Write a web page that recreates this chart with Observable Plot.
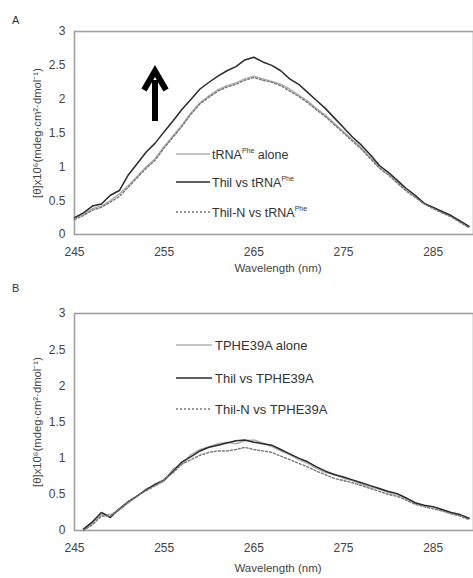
<!DOCTYPE html>
<html>
<head>
<meta charset="utf-8">
<script src="https://cdn.jsdelivr.net/npm/d3@7"></script>
<script src="https://cdn.jsdelivr.net/npm/@observablehq/plot@0.6"></script>
<style>
  html, body { margin: 0; padding: 0; background: #fff; }
  #wrap { position: relative; width: 473px; height: 578px; overflow: hidden; font-family: "Liberation Sans", Arial, sans-serif; }
  .panel { position: absolute; left: 0; }
  .overlay { position: absolute; left: 0; top: 0; pointer-events: none; }
</style>
</head>
<body>
<div id="wrap"></div>
<script>
const wavelengths = [245,246,247,248,249,250,251,252,253,254,255,256,257,258,259,260,261,262,263,264,265,266,267,268,269,270,271,272,273,274,275,276,277,278,279,280,281,282,283,284,285,286,287,288,289];

// Panel A
const aAlone = [0.24,0.30,0.38,0.42,0.50,0.60,0.72,0.86,1.00,1.12,1.30,1.46,1.62,1.80,1.95,2.05,2.14,2.20,2.24,2.30,2.34,2.30,2.26,2.22,2.15,2.06,1.97,1.86,1.76,1.64,1.52,1.40,1.28,1.14,1.00,0.90,0.78,0.66,0.56,0.46,0.40,0.33,0.27,0.19,0.11];
const aThil  = [0.25,0.32,0.42,0.45,0.58,0.65,0.88,1.05,1.22,1.35,1.52,1.68,1.85,2.00,2.15,2.25,2.34,2.42,2.48,2.58,2.62,2.55,2.50,2.42,2.30,2.22,2.10,1.98,1.86,1.72,1.58,1.44,1.32,1.18,1.02,0.92,0.80,0.68,0.58,0.46,0.40,0.34,0.28,0.20,0.12];
const aThilN = [0.22,0.28,0.36,0.40,0.48,0.56,0.70,0.84,0.98,1.10,1.28,1.44,1.60,1.78,1.93,2.03,2.12,2.18,2.22,2.28,2.32,2.28,2.25,2.20,2.12,2.04,1.95,1.84,1.74,1.62,1.50,1.38,1.26,1.12,0.98,0.88,0.76,0.64,0.55,0.45,0.38,0.32,0.26,0.18,0.10];

// Panel B
const bAlone = [null,0.00,0.10,0.22,0.22,0.28,0.38,0.47,0.58,0.62,0.68,0.85,0.92,1.05,1.12,1.16,1.20,1.22,1.20,1.24,1.25,1.21,1.16,1.10,1.05,0.98,0.93,0.86,0.80,0.78,0.72,0.69,0.64,0.60,0.57,0.53,0.49,0.44,0.39,0.34,0.32,0.28,0.24,0.21,0.16];
const bThil  = [null,0.02,0.12,0.25,0.18,0.30,0.40,0.48,0.56,0.64,0.70,0.82,0.95,1.02,1.10,1.15,1.18,1.21,1.24,1.25,1.22,1.20,1.18,1.12,1.06,1.00,0.95,0.88,0.82,0.77,0.74,0.70,0.66,0.62,0.58,0.54,0.51,0.45,0.38,0.35,0.33,0.29,0.25,0.22,0.17];
const bThilN = [null,0.00,0.08,0.20,0.20,0.30,0.40,0.48,0.55,0.62,0.70,0.80,0.92,0.98,1.04,1.08,1.10,1.10,1.12,1.15,1.12,1.10,1.08,1.03,0.98,0.93,0.88,0.82,0.77,0.72,0.69,0.66,0.62,0.58,0.54,0.50,0.47,0.42,0.36,0.33,0.30,0.27,0.23,0.20,0.15];

const xTicks = [245,255,265,275,285];
const yTicks = [0,0.5,1,1.5,2,2.5,3];
const xLabel = "Wavelength (nm)";
const yLabel = "[θ]x10⁶(mdeg·cm²·dmol⁻¹)";

const seriesStyle = [
  {stroke: "#b0b0b0", strokeWidth: 1.5, dash: null},
  {stroke: "#2a2a2a", strokeWidth: 1.5, dash: null},
  {stroke: "#777777", strokeWidth: 1.4, dash: "2,2"}
];

function rows(vals) { return wavelengths.map((w, i) => ({w, v: vals[i]})); }

function makePanel(series, height) {
  return Plot.plot({
    width: 473,
    height,
    marginLeft: 74,
    marginRight: 0,
    marginTop: 31,
    marginBottom: height - 31 - (height === 282 ? 203 : 217),
    style: {fontFamily: "Liberation Sans, Arial, sans-serif", fontSize: "12px", color: "#444", background: "transparent"},
    x: {domain: [245, 289.5], ticks: xTicks, tickSize: 0, tickPadding: 13, label: null, tickFormat: d => String(d)},
    y: {domain: [0, 3], ticks: yTicks, tickSize: 0, tickPadding: 9, label: null, tickFormat: d => String(d)},
    marks: [
      Plot.frame({stroke: "#a0a0a0", strokeWidth: 1.6}),
      ...series.map((s, i) => Plot.line(rows(s), {
        x: "w", y: "v", stroke: seriesStyle[i].stroke, strokeWidth: seriesStyle[i].strokeWidth,
        strokeDasharray: seriesStyle[i].dash, defined: d => d.v != null
      }))
    ]
  });
}

const wrap = document.getElementById("wrap");

const pA = makePanel([aAlone, aThil, aThilN], 282);
pA.classList.add("panel"); pA.style.top = "0px";
wrap.appendChild(pA);

const pB = makePanel([bAlone, bThil, bThilN], 296);
pB.classList.add("panel"); pB.style.top = "282px";
wrap.appendChild(pB);

// Overlay: panel letters, axis titles, legends, arrow
const ov = d3.select(wrap).append("svg").attr("class", "overlay")
  .attr("width", 473).attr("height", 578)
  .style("font-family", "Liberation Sans, Arial, sans-serif");

ov.append("text").attr("x", 12).attr("y", 24).attr("font-size", 11).attr("fill", "#333").text("A");
ov.append("text").attr("x", 12).attr("y", 292).attr("font-size", 11).attr("fill", "#333").text("B");

[272, 572].forEach(y => {
  ov.append("text").attr("x", 278).attr("y", y).attr("text-anchor", "middle")
    .attr("font-size", 11.5).attr("fill", "#444").text(xLabel);
});
[133, 422].forEach(y => {
  ov.append("text").attr("transform", `translate(41,${y}) rotate(-90)`).attr("text-anchor", "middle")
    .attr("font-size", 11.3).attr("fill", "#444").text(yLabel);
});

const legA = [["tRNA", "Phe", " alone"], ["Thil vs tRNA", "Phe", ""], ["Thil-N vs tRNA", "Phe", ""]];
const legAy = [154, 182, 212];
const legB = ["TPHE39A alone", "Thil vs TPHE39A", "Thil-N vs TPHE39A"];
const legBy = [345, 378, 409];

legA.forEach((parts, i) => {
  const y = legAy[i];
  ov.append("line").attr("x1", 176).attr("x2", 210).attr("y1", y).attr("y2", y)
    .attr("stroke", seriesStyle[i].stroke).attr("stroke-width", 1.3)
    .attr("stroke-dasharray", seriesStyle[i].dash);
  const t = ov.append("text").attr("x", 212).attr("y", y + 4.5).attr("font-size", 12.5).attr("fill", "#333");
  t.append("tspan").text(parts[0]);
  t.append("tspan").attr("font-size", 7).attr("dy", -6).text(parts[1]);
  if (parts[2]) t.append("tspan").attr("dy", 6).text(parts[2]);
});
legB.forEach((label, i) => {
  const y = legBy[i];
  ov.append("line").attr("x1", 176).attr("x2", 212).attr("y1", y).attr("y2", y)
    .attr("stroke", seriesStyle[i].stroke).attr("stroke-width", 1.3)
    .attr("stroke-dasharray", seriesStyle[i].dash);
  ov.append("text").attr("x", 215).attr("y", y + 4.5).attr("font-size", 13).attr("fill", "#333").text(label);
});

// arrow
ov.append("line").attr("x1", 155).attr("x2", 155).attr("y1", 121).attr("y2", 80)
  .attr("stroke", "#000").attr("stroke-width", 6);
ov.append("path").attr("d", "M144,90 L155,71 L166,90").attr("fill", "none")
  .attr("stroke", "#000").attr("stroke-width", 6).attr("stroke-linejoin", "miter").attr("stroke-miterlimit", 10);
</script>
</body>
</html>
